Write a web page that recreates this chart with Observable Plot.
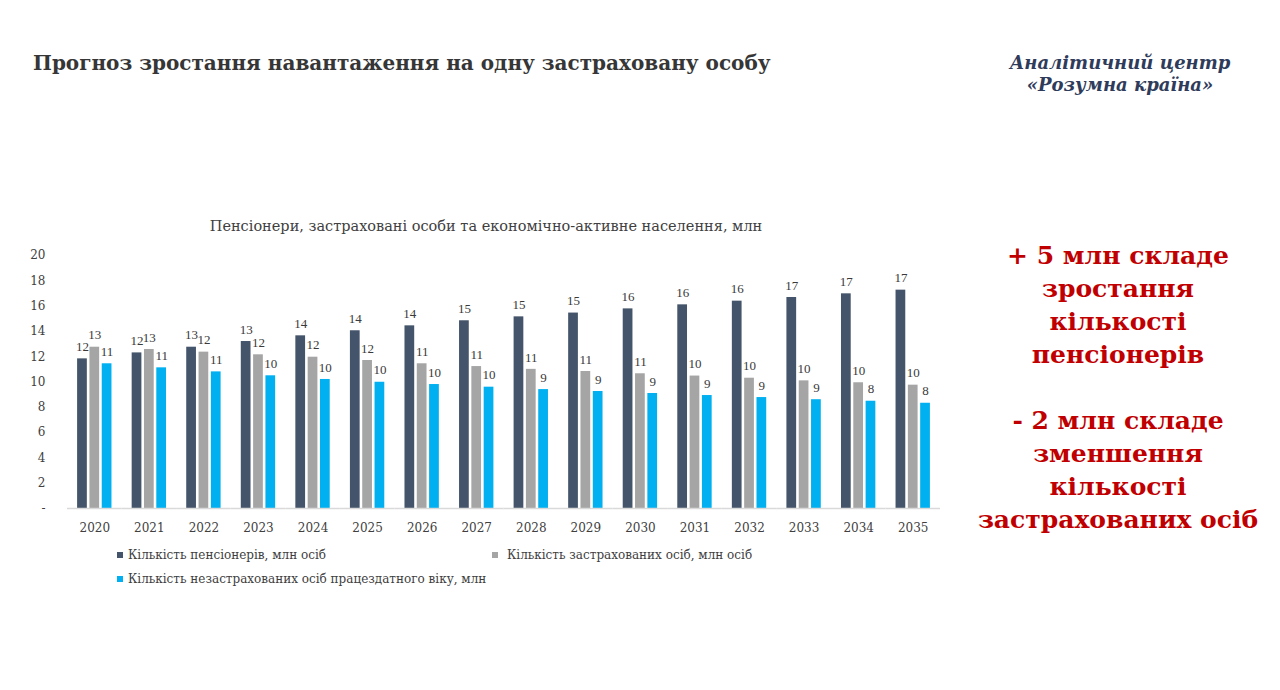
<!DOCTYPE html>
<html>
<head>
<meta charset="utf-8">
<script src="https://cdn.jsdelivr.net/npm/d3@7"></script>
<script src="https://cdn.jsdelivr.net/npm/@observablehq/plot@0.6"></script>
<style>
  html, body { margin: 0; padding: 0; background: #fff; }
  #page { position: relative; width: 1280px; height: 690px; overflow: hidden; background: #fff; font-family: "DejaVu Serif", serif; }
  #title { position: absolute; left: 33px; top: 51px; font-size: 20px; font-weight: bold; color: #363636; white-space: nowrap; }
  #logo { position: absolute; left: 990px; width: 260px; top: 52px; font-size: 18px; font-weight: bold; font-style: italic; color: #2f3b5a; text-align: center; line-height: 22px; }
  #subtitle { position: absolute; left: 0; width: 972px; top: 218px; text-align: center; font-size: 14.5px; color: #404040; white-space: nowrap; }
  #chart { position: absolute; left: 0; top: 240px; }
  #note { position: absolute; left: 960px; width: 316px; top: 239px; text-align: center; font-size: 25px; font-weight: bold; color: #c00000; line-height: 33px; }
  .lg { position: absolute; font-size: 12px; color: #404040; white-space: nowrap; display: flex; align-items: center; }
  .lg i { display: inline-block; width: 6px; height: 6px; margin-right: 5px; }
</style>
</head>
<body>
<div id="page">
  <div id="title">Прогноз зростання навантаження на одну застраховану особу</div>
  <div id="logo">Аналітичний центр<br>«Розумна країна»</div>
  <div id="subtitle">Пенсіонери, застраховані особи та економічно-активне населення, млн</div>
  <div id="chart"></div>
  <div id="note">+ 5 млн складе<br>зростання<br>кількості<br>пенсіонерів<br><br>- 2 млн складе<br>зменшення<br>кількості<br>застрахованих осіб</div>
  <div id="legend"></div>
</div>
<script>
const years = ["2020","2021","2022","2023","2024","2025","2026","2027","2028","2029","2030","2031","2032","2033","2034","2035"];
const seriesNames = [
  "Кількість пенсіонерів, млн осіб",
  "Кількість застрахованих осіб, млн осіб",
  "Кількість незастрахованих осіб працездатного віку, млн"
];
const seriesColors = ["#44546a", "#a5a5a5", "#00b0f0"];
const pensioners = [11.83, 12.3, 12.75, 13.2, 13.65, 14.05, 14.44, 14.84, 15.15, 15.45, 15.78, 16.1, 16.39, 16.68, 16.97, 17.26];
const insured    = [12.75, 12.57, 12.36, 12.15, 11.96, 11.7, 11.44, 11.22, 11.0, 10.83, 10.65, 10.47, 10.3, 10.09, 9.94, 9.75];
const uninsured  = [11.44, 11.12, 10.8, 10.49, 10.2, 9.98, 9.8, 9.59, 9.4, 9.25, 9.09, 8.93, 8.77, 8.6, 8.48, 8.32];
const yTicks = [0, 2, 4, 6, 8, 10, 12, 14, 16, 18, 20];

const seriesValues = [pensioners, insured, uninsured];
const table = [];
years.forEach((year, i) => {
  seriesNames.forEach((s, j) => table.push({year, series: s, value: seriesValues[j][i]}));
});

const chart = Plot.plot({
  width: 960,
  height: 298,
  marginLeft: 67,
  marginRight: 20,
  marginTop: 15,
  marginBottom: 30,
  style: {fontFamily: "DejaVu Serif, serif", fontSize: "12px", color: "#404040", background: "transparent", overflow: "visible"},
  fx: {domain: years, padding: 0, round: false, label: null, axis: "bottom", tickSize: 0, tickPadding: 15},
  x: {domain: seriesNames, paddingInner: 0.21, paddingOuter: 0.82, round: false, axis: null},
  y: {domain: [0, 20], ticks: yTicks, tickFormat: d => d === 0 ? "-" : String(d), label: null, tickSize: 0, tickPadding: 22},
  color: {domain: seriesNames, range: seriesColors},
  marks: [
    Plot.barY(table, {fx: "year", x: "series", y: "value", fill: "series"}),
    Plot.text(table, {fx: "year", x: "series", y: "value", text: d => String(Math.round(d.value)), dy: -12, fill: "#3a3a3a", fontSize: 13, fontFamily: "Liberation Serif, serif"}),
    Plot.ruleY([0], {stroke: "#d9d9d9", strokeWidth: 1.5})
  ]
});
document.getElementById("chart").appendChild(chart);

const legendPos = [[117, 548], [492, 548], [117, 572]];
const legend = document.getElementById("legend");
seriesNames.forEach((s, j) => {
  const d = document.createElement("div");
  d.className = "lg";
  d.style.left = legendPos[j][0] + "px";
  d.style.top = legendPos[j][1] + "px";
  if (j === 1) d.innerHTML = `<i style="background:${seriesColors[j]};margin-right:9px"></i>${s}`;
  else d.innerHTML = `<i style="background:${seriesColors[j]}"></i>${s}`;
  legend.appendChild(d);
});
</script>
</body>
</html>
